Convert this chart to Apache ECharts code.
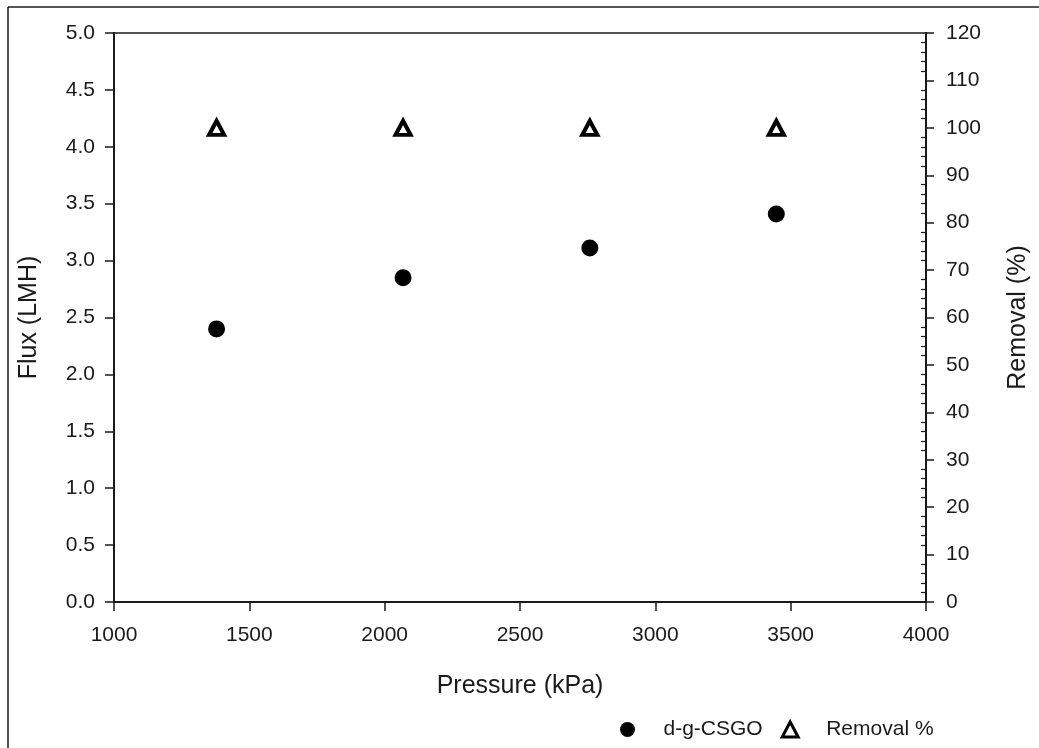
<!DOCTYPE html>
<html lang="en">
<head>
    <meta charset="UTF-8">
    <title>Flux and removal vs pressure</title>
    <style>
        * { padding: 0; margin: 0; }
        body { background: #fff; }
    </style>
    <script src="https://cdn.jsdelivr.net/npm/echarts@6/dist/echarts.min.js"></script>
</head>
<body>
    <div id="main" style="width:1039px;height:748px;"></div>
    <script>
        // data
        var pressure = [1379, 2068, 2758, 3447];
        var flux = [2.40, 2.85, 3.11, 3.41];
        var removal = [100, 100, 100, 100];

        var font = 'Liberation Sans, Arial, sans-serif';
        var ink = '#1a1a1a';

        var chart = echarts.init(document.getElementById('main'));

        var triStyle = { color: '#fff', borderColor: '#000', borderWidth: 4, opacity: 1 };

        var option = {
            backgroundColor: '#fff',
            animation: false,
            textStyle: { fontFamily: font, color: ink },
            grid: {
                left: 114, right: 113, top: 33, bottom: 146,
                show: true, borderColor: ink, borderWidth: 1.5,
                backgroundColor: 'transparent'
            },
            legend: {
                left: 615, top: 714,
                itemGap: 18, itemWidth: 16, itemHeight: 15,
                textStyle: { fontSize: 21, color: ink, fontFamily: font, padding: [0, 0, 0, 23] },
                data: [
                    { name: 'd-g-CSGO', icon: 'circle', itemStyle: { color: '#000', opacity: 1 } },
                    { name: 'Removal %', icon: 'triangle',
                      itemStyle: { color: '#fff', borderColor: '#000', borderWidth: 3, opacity: 1 } }
                ]
            },
            xAxis: {
                type: 'value',
                min: 1000, max: 4000, interval: 500,
                name: 'Pressure (kPa)',
                nameLocation: 'middle', nameGap: 72,
                nameTextStyle: { fontSize: 25, color: ink },
                axisLine: { show: true, lineStyle: { color: ink, width: 2 } },
                axisTick: { show: true, length: 9, lineStyle: { color: ink, width: 1.5 } },
                axisLabel: {
                    fontSize: 21, color: ink, margin: 23,
                    formatter: function (v) { return String(v); }
                },
                splitLine: { show: false }
            },
            yAxis: [{
                type: 'value',
                min: 0, max: 5, interval: 0.5,
                position: 'left',
                name: 'Flux (LMH)',
                nameLocation: 'middle', nameGap: 72, nameRotate: 90,
                nameTextStyle: { fontSize: 25, color: ink },
                axisLine: { show: true, lineStyle: { color: ink, width: 2 } },
                axisTick: { show: true, length: 9, lineStyle: { color: ink, width: 1.5 } },
                axisLabel: {
                    fontSize: 21, color: ink, margin: 19,
                    formatter: function (v) { return v.toFixed(1); }
                },
                splitLine: { show: false }
            }, {
                type: 'value',
                min: 0, max: 120, interval: 10,
                position: 'right',
                name: 'Removal (%)',
                nameLocation: 'middle', nameGap: 80, nameRotate: 90,
                nameTextStyle: { fontSize: 25, color: ink },
                axisLine: { show: true, lineStyle: { color: ink, width: 2 } },
                axisTick: { show: true, length: 8, lineStyle: { color: ink, width: 1.5 } },
                minorTick: { show: true, splitNumber: 5, length: -5, lineStyle: { color: ink, width: 1.2 } },
                axisLabel: { fontSize: 21, color: ink, margin: 20 },
                splitLine: { show: false }
            }],
            series: [{
                name: 'd-g-CSGO',
                type: 'scatter',
                yAxisIndex: 0,
                symbol: 'circle',
                symbolSize: 17,
                itemStyle: { color: '#000', opacity: 1 },
                data: pressure.map(function (p, i) { return [p, flux[i]]; })
            }, {
                name: 'Removal %',
                type: 'scatter',
                yAxisIndex: 1,
                symbol: 'triangle',
                symbolSize: [15, 14],
                itemStyle: triStyle,
                data: pressure.map(function (p, i) { return [p, removal[i]]; })
            }],
            graphic: [
                { type: 'line', shape: { x1: 8, y1: 7, x2: 8, y2: 748 }, style: { stroke: ink, lineWidth: 1.5 } },
                { type: 'line', shape: { x1: 8, y1: 7, x2: 1039, y2: 7 }, style: { stroke: ink, lineWidth: 1.5 } }
            ]
        };

        chart.setOption(option);
    </script>
</body>
</html>
